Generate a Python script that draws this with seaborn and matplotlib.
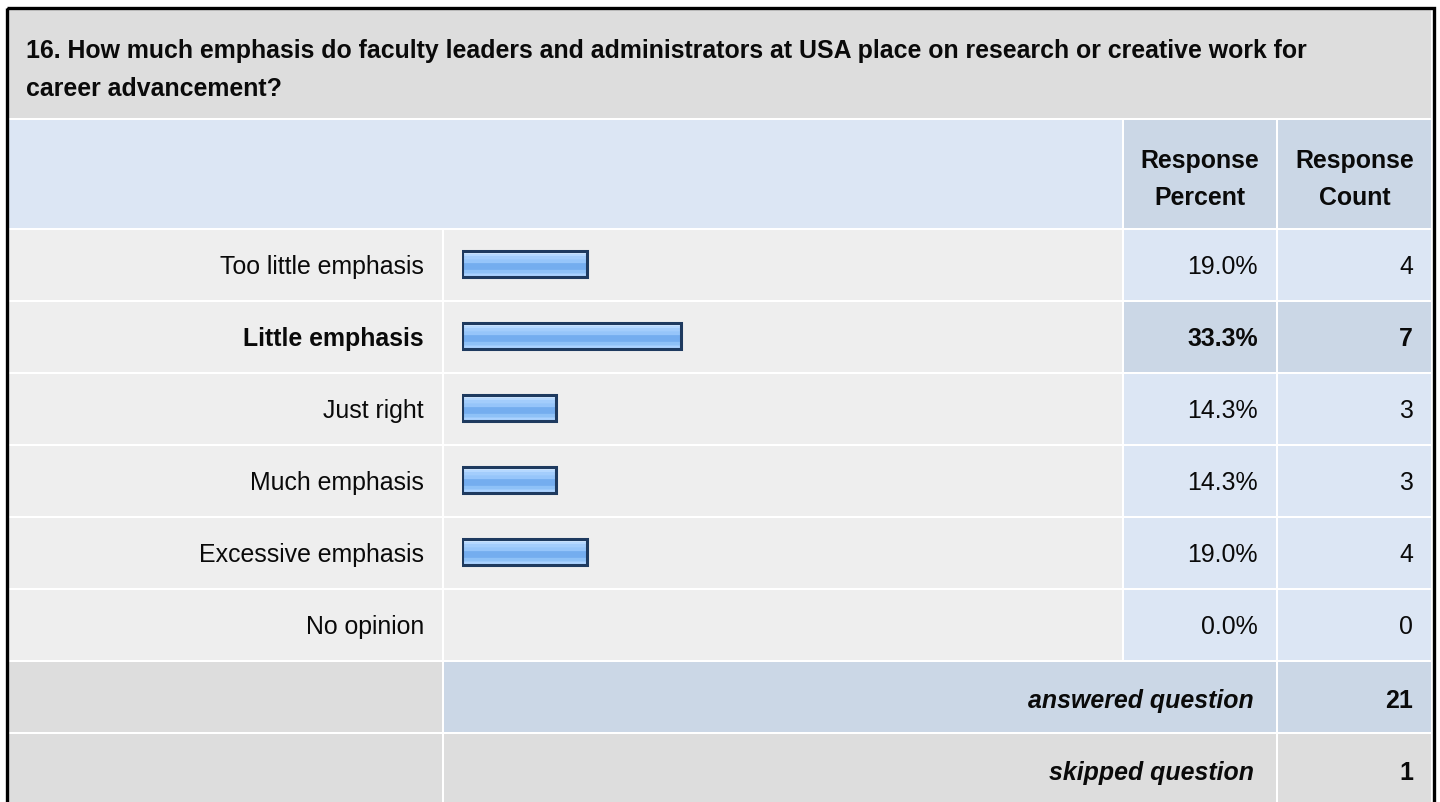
import numpy as np
import matplotlib
matplotlib.use("Agg")
import matplotlib.pyplot as plt
from matplotlib.patches import Rectangle
import seaborn as sns
import pandas as pd

# ---- data ----
title_lines = ["16. How much emphasis do faculty leaders and administrators at USA place on research or creative work for",
               "career advancement?"]
categories = ["Too little emphasis", "Little emphasis", "Just right", "Much emphasis",
              "Excessive emphasis", "No opinion"]
percents = [19.0, 33.3, 14.3, 14.3, 19.0, 0.0]
counts = [4, 7, 3, 3, 4, 0]
answered = 21
skipped = 1
header_cols = [["Response", "Percent"], ["Response", "Count"]]

sns.set_theme(style="white")
plt.rcParams['font.family'] = ['Liberation Sans', 'DejaVu Sans']

W, H = 1440, 803
FS = 17.9
fig = plt.figure(figsize=(W / 100, H / 100), dpi=100)
fig.patch.set_facecolor("white")

# table layer in pixel coordinates
tab = fig.add_axes([0, 0, 1, 1])
tab.set_xlim(0, W)
tab.set_ylim(H, 0)
tab.axis("off")

GRAY = "#DDDDDD"
LIGHT = "#EEEEEE"
BLUE = "#DCE6F4"
DBLUE = "#CBD7E6"
TXT = "#0A0A0A"

def cell(x0, x1, y0, y1, color):
    tab.add_patch(Rectangle((x0, y0), x1 - x0, y1 - y0, facecolor=color, edgecolor="none", zorder=1))

cols = [(9, 442), (444, 1122), (1124, 1276), (1278, 1431)]

# title
cell(9, 1431, 11, 119, GRAY)
tab.text(26, 58.3, title_lines[0], fontsize=FS, fontweight="bold", color=TXT, va="baseline", ha="left", zorder=3)
tab.text(26, 96.5, title_lines[1], fontsize=FS, fontweight="bold", color=TXT, va="baseline", ha="left", zorder=3)

# header
cell(9, 1122, 121, 229, BLUE)
cell(1124, 1276, 121, 229, DBLUE)
cell(1278, 1431, 121, 229, DBLUE)
for (c0, c1), lines in zip(cols[2:], header_cols):
    cx = (c0 + c1) / 2
    tab.text(cx, 168.3, lines[0], fontsize=FS, fontweight="bold", color=TXT, ha="center", va="baseline", zorder=3)
    tab.text(cx, 205, lines[1], fontsize=FS, fontweight="bold", color=TXT, ha="center", va="baseline", zorder=3)

imax = int(np.argmax(percents))
for k, (lab, p, c) in enumerate(zip(categories, percents, counts)):
    y0 = 231 + 72 * k
    y1 = y0 + 70
    bold = (k == imax)
    cell(9, 442, y0, y1, LIGHT)
    cell(444, 1122, y0, y1, LIGHT)
    cell(1124, 1276, y0, y1, DBLUE if bold else BLUE)
    cell(1278, 1431, y0, y1, DBLUE if bold else BLUE)
    fw = "bold" if bold else "normal"
    yb = 274.5 + 72 * k
    tab.text(424, yb, lab, fontsize=FS, fontweight=fw, color=TXT, ha="right", va="baseline", zorder=3)
    tab.text(1258, yb, f"{p:.1f}%", fontsize=FS, fontweight=fw, color=TXT, ha="right", va="baseline", zorder=3)
    tab.text(1413, yb, f"{c}", fontsize=FS, fontweight=fw, color=TXT, ha="right", va="baseline", zorder=3)

# answered / skipped
cell(9, 442, 663, 733, GRAY)
cell(444, 1276, 663, 733, DBLUE)
cell(1278, 1431, 663, 733, DBLUE)
cell(9, 442, 735, 810, GRAY)
cell(444, 1276, 735, 810, GRAY)
cell(1278, 1431, 735, 810, GRAY)
tab.text(1254, 708, "answered question", fontsize=FS, fontweight="bold", fontstyle="italic", color=TXT, ha="right", va="baseline", zorder=3)
tab.text(1413, 708, f"{answered}", fontsize=FS, fontweight="bold", color=TXT, ha="right", va="baseline", zorder=3)
tab.text(1254, 780, "skipped question", fontsize=FS, fontweight="bold", fontstyle="italic", color=TXT, ha="right", va="baseline", zorder=3)
tab.text(1413, 780, f"{skipped}", fontsize=FS, fontweight="bold", color=TXT, ha="right", va="baseline", zorder=3)

# outer frame
tab.add_patch(Rectangle((6.5, 8.8), 1434 - 6.5, 820, facecolor="none", edgecolor="#000000", lw=2.4, zorder=4))

# ---- bars via seaborn ----
x0px, scale = 461.5, 6.58
bax = fig.add_axes([x0px / W, (H - 661) / H, scale * 100 / W, 432 / H])
df = pd.DataFrame({"category": categories, "percent": percents})
sns.barplot(data=df, x="percent", y="category", orient="h", width=0.35,
            color="#8EC1F7", edgecolor="#1E3A5F", linewidth=2.2, ax=bax, zorder=3)
bax.set_xlim(0, 100)
bax.set_ylim(5.5, -0.5)
bax.axis("off")
bax.patch.set_alpha(0)

# glossy gradient fill, clipped to each bar
bands = ["#CDE5FF", "#CDE5FF", "#B5D8FF", "#B5D8FF", "#A3CDFC", "#A3CDFC", "#9AC8FA", "#96C5FA",
         "#96C5FA", "#78B0F0", "#74ADEF", "#74ADEF", "#74ADEF", "#74ADEF", "#78B0F0", "#8EC1F7",
         "#8EC1F7", "#9CC9FA", "#AAD2FF", "#B2D6FF"]
grad = np.array([matplotlib.colors.to_rgb(b) for b in bands])[:, None, :]
for patch in list(bax.patches):
    w = patch.get_width()
    if w <= 0:
        patch.set_visible(False)
        continue
    x, y, h = patch.get_x(), patch.get_y(), patch.get_height()
    patch.set_facecolor("none")
    im = bax.imshow(grad, extent=(x, x + w, y + h, y), aspect="auto", zorder=2, interpolation="nearest")
    im.set_clip_path(patch)
bax.set_xlim(0, 100)
bax.set_ylim(5.5, -0.5)

fig.savefig("out.png", dpi=100, facecolor="white")
